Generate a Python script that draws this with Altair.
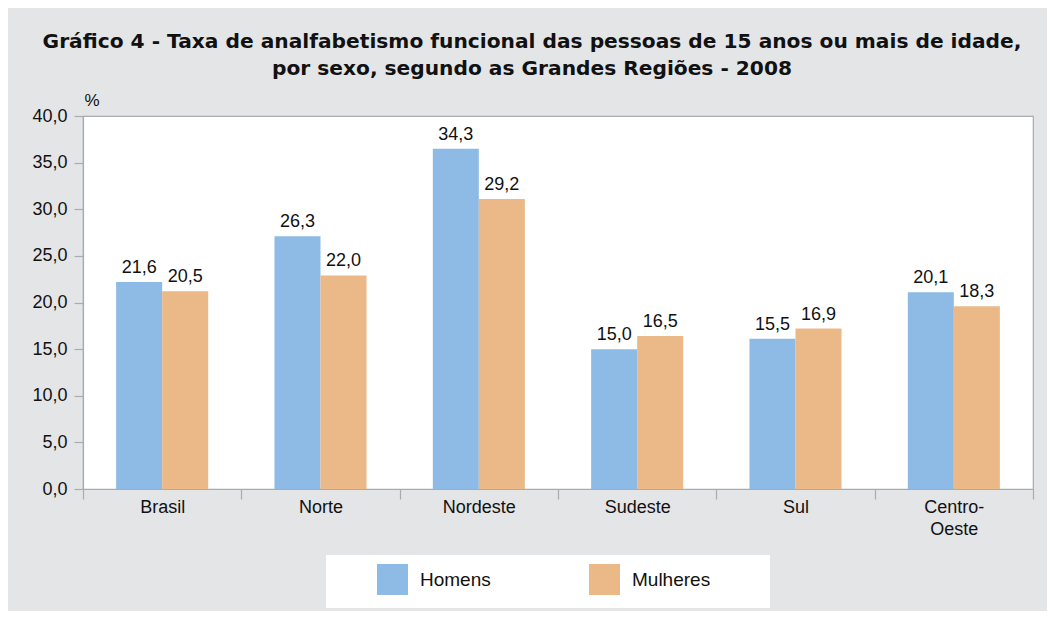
import altair as alt
import pandas as pd

regions = ["Brasil", "Norte", "Nordeste", "Sudeste", "Sul", "Centro-Oeste"]
sexes = ["Homens", "Mulheres"]
colors = ["#8ebbe5", "#ebb987"]

# bar heights as drawn in the picture
homens_bar = [22.2, 27.1, 36.5, 15.0, 16.1, 21.1]
mulheres_bar = [21.2, 22.9, 31.1, 16.4, 17.2, 19.6]
# value labels as printed
homens_label = ["21,6", "26,3", "34,3", "15,0", "15,5", "20,1"]
mulheres_label = ["20,5", "22,0", "29,2", "16,5", "16,9", "18,3"]

y_ticks = [0, 5, 10, 15, 20, 25, 30, 35, 40]

rows = []
for i, r in enumerate(regions):
    rows.append({"regiao": r, "sexo": "Homens", "valor": homens_bar[i], "rotulo": homens_label[i]})
    rows.append({"regiao": r, "sexo": "Mulheres", "valor": mulheres_bar[i], "rotulo": mulheres_label[i]})
df = pd.DataFrame(rows)

FONT = "Liberation Sans"
TXT = "#111111"
LINE = "#a9abae"

x_enc = alt.X(
    "regiao:N", sort=regions,
    scale=alt.Scale(paddingInner=0, paddingOuter=0),
    axis=alt.Axis(
        title=None, labelAngle=0, tickBand="extent", tickSize=10, labelPadding=-1,
        labelFontSize=18, labelLineHeight=22, labelFont=FONT, labelColor=TXT,
        labelExpr="datum.label == 'Centro-Oeste' ? ['Centro-', 'Oeste'] : datum.label",
        tickColor=LINE, domainColor=LINE, tickWidth=1.2, domainWidth=1.2,
    ),
)
xoff = alt.XOffset("sexo:N", sort=sexes, scale=alt.Scale(paddingInner=0, paddingOuter=0.72))
y_enc = alt.Y(
    "valor:Q",
    scale=alt.Scale(domain=[0, 40], nice=False),
    axis=alt.Axis(
        values=y_ticks, grid=False,
        labelExpr="replace(format(datum.value, '.1f'), '.', ',')",
        labelFontSize=18, labelFont=FONT, labelColor=TXT, labelPadding=7,
        tickSize=9, tickColor=LINE, domainColor=LINE, tickWidth=1.2, domainWidth=1.2,
        title="%", titleAngle=0, titleAlign="left", titleBaseline="middle",
        titleX=1, titleY=-16, titleFontWeight="normal", titleFontSize=17,
        titleFont=FONT, titleColor=TXT,
    ),
)
color_enc = alt.Color(
    "sexo:N",
    scale=alt.Scale(domain=sexes, range=colors),
    legend=alt.Legend(
        title=None, orient="none", legendX=294, legendY=448, direction="horizontal",
        symbolType="square", symbolSize=961, symbolStrokeWidth=0, symbolOpacity=1,
        labelFontSize=19, labelFont=FONT, labelColor=TXT, labelOffset=12,
        columnPadding=98, padding=0,
    ),
)

box = alt.Chart(alt.Data(values=[{}])).mark_rect(color="white").encode(
    x=alt.value(243), x2=alt.value(687), y=alt.value(439), y2=alt.value(492)
)
bars = alt.Chart(df).mark_bar().encode(x=x_enc, xOffset=xoff, y=y_enc, color=color_enc)
labels = alt.Chart(df).mark_text(
    baseline="alphabetic", dy=-9, fontSize=18, font=FONT, color=TXT
).encode(x=x_enc, xOffset=xoff, y=y_enc, text="rotulo:N")

chart = alt.layer(box, bars, labels).properties(
    width=950, height=373,
    title=alt.TitleParams(
        text=["Gráfico 4 - Taxa de analfabetismo funcional das pessoas de 15 anos ou mais de idade,",
              "por sexo, segundo as Grandes Regiões - 2008"],
        fontSize=20.2, fontWeight="bold", font="DejaVu Sans", color=TXT, anchor="middle",
        frame="group", offset=12, dx=-26, lineHeight=27,
    ),
    padding={"left": 75, "top": 108, "right": 14, "bottom": 122},
    autosize=alt.AutoSizeParams(type="none"),
).configure(background="#e4e5e7").configure_view(stroke=LINE, strokeWidth=1.2, fill="white")

chart.save("out.html", embed_options={"renderer": "svg", "actions": False})
